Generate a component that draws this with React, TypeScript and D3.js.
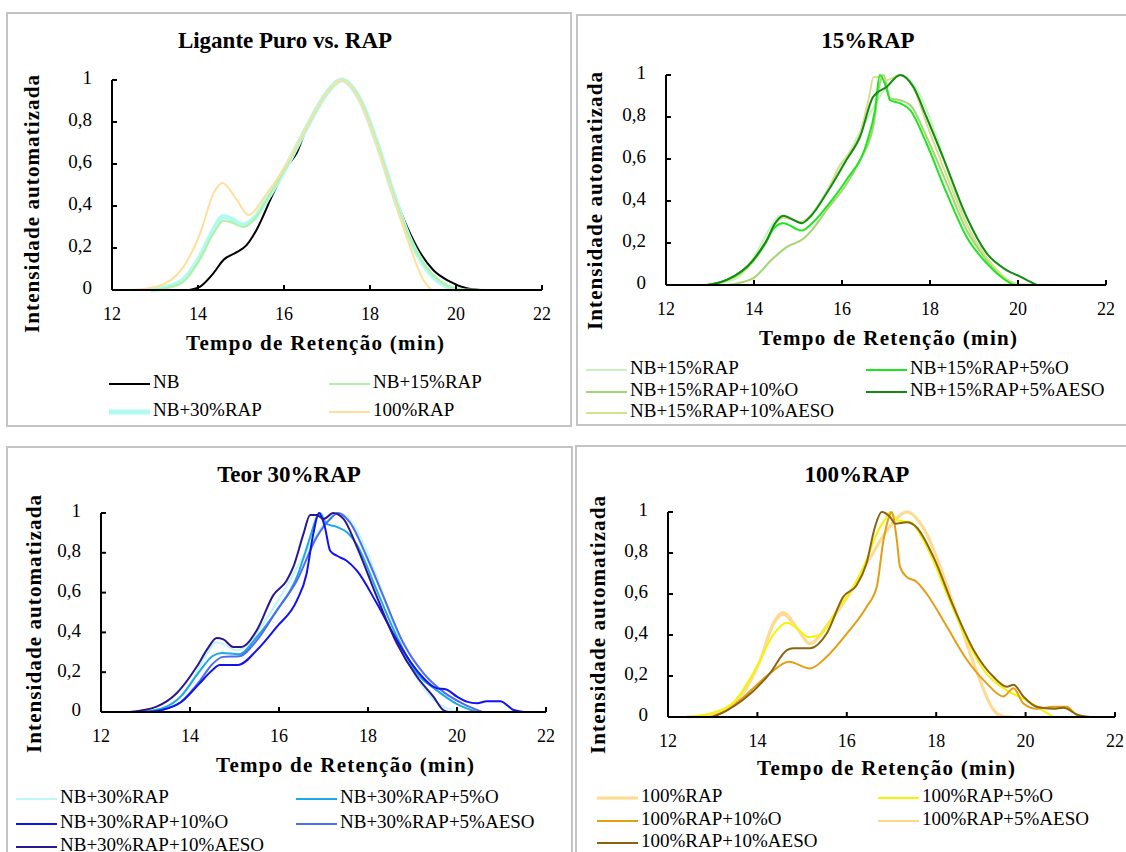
import React from 'react';
import * as d3 from 'd3';

type Pt = [number, number];

const xTicks = [12, 14, 16, 18, 20, 22];
const yTicks = [0, 0.2, 0.4, 0.6, 0.8, 1];

// ---------- Panel 1 / shared series ----------
const nb: Pt[] = [[13.8,0],[14.05,0.016],[14.36,0.08],[14.59,0.143],[14.9,0.18],[15.13,0.214],[15.36,0.286],[15.75,0.46],[16.06,0.585],[16.3,0.655],[16.53,0.775],[17.0,0.94],[17.34,1.0],[17.77,0.905],[18.16,0.70],[18.5,0.49],[18.8,0.33],[19.09,0.205],[19.47,0.095],[19.86,0.04],[20.25,0.008],[20.56,0]];
const nb15: Pt[] = [[12.9,0],[13.3,0.012],[13.66,0.04],[14.05,0.15],[14.36,0.27],[14.6,0.33],[14.8,0.32],[15.05,0.30],[15.3,0.335],[15.6,0.43],[16.06,0.59],[16.53,0.775],[17.0,0.94],[17.34,1.0],[17.77,0.905],[18.16,0.70],[18.54,0.46],[18.93,0.245],[19.09,0.18],[19.47,0.07],[19.8,0.02],[20.1,0.003],[20.8,0]];
const nb30: Pt[] = [[12.9,0],[13.3,0.015],[13.66,0.048],[14.05,0.16],[14.36,0.286],[14.59,0.35],[14.8,0.335],[15.05,0.31],[15.3,0.34],[15.6,0.43],[16.06,0.59],[16.53,0.775],[17.0,0.94],[17.34,1.0],[17.77,0.905],[18.16,0.70],[18.54,0.46],[18.93,0.24],[19.09,0.175],[19.47,0.063],[19.8,0.015],[20.09,0]];
const rap100: Pt[] = [[12.42,0],[13.04,0.016],[13.66,0.11],[14.05,0.27],[14.36,0.46],[14.57,0.51],[14.9,0.43],[15.17,0.357],[15.6,0.46],[16.06,0.60],[16.53,0.78],[17.0,0.94],[17.34,1.0],[17.77,0.90],[18.16,0.69],[18.54,0.45],[18.93,0.206],[19.24,0.048],[19.43,0]];

// ---------- Panel 2 (15%RAP) ----------
const nb15o5: Pt[] = [[12.95,0],[13.38,0.024],[13.98,0.115],[14.29,0.21],[14.45,0.27],[14.67,0.294],[15.08,0.259],[15.35,0.30],[15.65,0.373],[16.1,0.5],[16.56,0.675],[16.75,0.833],[16.86,1.0],[17.02,0.93],[17.09,0.88],[17.32,0.865],[17.55,0.833],[17.92,0.675],[18.38,0.437],[18.83,0.23],[19.29,0.103],[19.67,0.03],[19.9,0]];
const nb15o10: Pt[] = [[13.38,0],[13.98,0.032],[14.4,0.12],[14.74,0.18],[15.12,0.22],[15.35,0.27],[15.65,0.357],[16.1,0.48],[16.41,0.595],[16.71,0.754],[16.86,0.96],[16.94,1.0],[17.09,0.89],[17.32,0.88],[17.55,0.857],[17.92,0.706],[18.38,0.484],[18.83,0.262],[19.29,0.119],[19.74,0.02],[19.9,0]];
const nb15a5: Pt[] = [[12.92,0],[13.38,0.024],[13.98,0.119],[14.29,0.214],[14.48,0.294],[14.67,0.33],[14.85,0.315],[15.08,0.294],[15.3,0.33],[15.65,0.437],[16.1,0.595],[16.41,0.706],[16.71,0.897],[17.02,0.944],[17.32,1.0],[17.62,0.944],[17.92,0.80],[18.38,0.563],[18.83,0.325],[19.29,0.151],[19.74,0.071],[20.05,0.04],[20.42,0]];
const nb15a10: Pt[] = [[12.95,0],[13.38,0.02],[13.98,0.11],[14.29,0.21],[14.48,0.29],[14.67,0.32],[15.08,0.30],[15.3,0.335],[15.65,0.44],[15.95,0.57],[16.1,0.61],[16.41,0.72],[16.6,0.88],[16.72,0.99],[16.85,0.99],[17.0,0.975],[17.32,1.0],[17.62,0.94],[17.92,0.77],[18.38,0.52],[18.83,0.29],[19.29,0.13],[19.74,0.03],[20.0,0]];

// ---------- Panel 3 (30%RAP) ----------
const nb30o5: Pt[] = [[12.95,0],[13.4,0.02],[13.8,0.08],[14.2,0.2],[14.5,0.28],[14.71,0.297],[15.1,0.29],[15.5,0.377],[15.95,0.51],[16.4,0.678],[16.7,0.879],[16.85,0.98],[16.92,1.0],[17.07,0.945],[17.3,0.93],[17.52,0.904],[17.75,0.84],[18.2,0.61],[18.65,0.377],[19.1,0.194],[19.54,0.11],[20.0,0.04],[20.45,0]];
const nb30o10: Pt[] = [[12.95,0],[13.4,0.012],[13.8,0.05],[14.2,0.14],[14.5,0.21],[14.67,0.236],[15.08,0.236],[15.5,0.31],[15.95,0.428],[16.4,0.56],[16.62,0.695],[16.77,0.895],[16.9,1.0],[17.03,0.93],[17.15,0.81],[17.3,0.785],[17.52,0.76],[17.75,0.71],[18.2,0.545],[18.65,0.36],[19.1,0.208],[19.54,0.12],[19.76,0.113],[20.0,0.077],[20.22,0.052],[20.45,0.044],[20.67,0.054],[20.97,0.054],[21.27,0.01],[21.5,0]];
const nb30a5: Pt[] = [[13.0,0],[13.4,0.012],[13.8,0.05],[14.2,0.15],[14.5,0.24],[14.74,0.277],[15.1,0.28],[15.5,0.36],[15.95,0.51],[16.4,0.66],[16.85,0.88],[17.15,0.97],[17.33,1.0],[17.6,0.95],[17.97,0.78],[18.35,0.578],[18.8,0.344],[19.25,0.194],[19.7,0.1],[20.15,0.04],[20.57,0]];
const nb30a10: Pt[] = [[12.65,0],[13.25,0.027],[13.7,0.094],[14.15,0.227],[14.4,0.32],[14.6,0.372],[14.75,0.365],[14.97,0.327],[15.15,0.327],[15.5,0.41],[15.87,0.586],[16.17,0.66],[16.32,0.728],[16.55,0.895],[16.7,0.99],[16.85,0.99],[17.0,0.97],[17.22,1.0],[17.45,0.97],[17.75,0.83],[18.2,0.578],[18.65,0.344],[19.1,0.177],[19.47,0.077],[19.69,0.01],[19.8,0]];

// ---------- Panel 4 (100%RAP) ----------
const rapO5: Pt[] = [[12.45,0],[13.0,0.02],[13.5,0.08],[14.0,0.25],[14.35,0.40],[14.66,0.46],[14.9,0.43],[15.14,0.39],[15.4,0.40],[15.77,0.52],[16.15,0.635],[16.44,0.765],[16.67,0.895],[16.9,0.98],[16.97,1.0],[17.12,0.96],[17.42,0.95],[17.79,0.83],[18.24,0.60],[18.69,0.375],[19.13,0.21],[19.58,0.13],[20.03,0.08],[20.33,0.04],[20.62,0]];
const rapO10: Pt[] = [[12.94,0],[13.3,0.03],[13.68,0.095],[14.28,0.213],[14.7,0.27],[15.18,0.237],[15.55,0.294],[16.0,0.407],[16.44,0.537],[16.67,0.635],[16.82,0.862],[16.95,0.98],[17.0,1.0],[17.12,0.862],[17.19,0.732],[17.34,0.683],[17.56,0.66],[17.79,0.60],[18.24,0.44],[18.69,0.278],[19.13,0.164],[19.5,0.1],[19.73,0.14],[19.95,0.066],[20.25,0.04],[20.62,0.05],[20.92,0.05],[21.14,0.01],[21.25,0]];
const rapA5: Pt[] = [[12.45,0],[13.04,0.017],[13.66,0.11],[14.05,0.27],[14.36,0.45],[14.57,0.50],[14.9,0.425],[15.17,0.36],[15.6,0.46],[16.06,0.60],[16.53,0.78],[17.0,0.94],[17.34,1.0],[17.77,0.90],[18.16,0.69],[18.54,0.45],[18.93,0.21],[19.24,0.05],[19.5,0.005],[19.75,0]];
const rapA10: Pt[] = [[13.0,0],[13.3,0.03],[13.68,0.084],[14.28,0.213],[14.66,0.326],[14.8,0.335],[15.18,0.335],[15.55,0.407],[15.92,0.586],[16.22,0.643],[16.44,0.749],[16.63,0.927],[16.78,1.0],[16.97,0.975],[17.08,0.943],[17.34,0.95],[17.56,0.926],[17.94,0.78],[18.39,0.537],[18.84,0.326],[19.28,0.196],[19.58,0.148],[19.73,0.157],[19.95,0.1],[20.25,0.05],[20.62,0.04],[20.85,0.045],[21.14,0.013],[21.44,0]];

const SERIF = '"Liberation Serif","Times New Roman",serif';

type Series = { name: string; data: Pt[]; color: string; width: number };
type Cfg = {
  frame: [number, number, number, number];
  x0: number; x1: number; y1: number; y0: number;
  title: string; titleX: number; titleY: number;
  xLabelX: number; xLabelY: number;
  yLabelX: number; yLabelY: number;
  series: Series[]; drawOrder: number[];
  legCols: [number, number]; legRows: number[];
};

const panels: Cfg[] = [
  {
    frame: [7, 13, 571, 426], x0: 112, x1: 542, y1: 80, y0: 290,
    title: 'Ligante Puro vs. RAP', titleX: 285, titleY: 43,
    xLabelX: 315, xLabelY: 345, yLabelX: 34, yLabelY: 204,
    series: [
      { name: 'NB', data: nb, color: '#000000', width: 2 },
      { name: 'NB+15%RAP', data: nb15, color: '#b4f0a4', width: 2 },
      { name: 'NB+30%RAP', data: nb30, color: '#b2faf0', width: 5 },
      { name: '100%RAP', data: rap100, color: '#ffdf9c', width: 2 },
    ],
    drawOrder: [0, 2, 1, 3],
    legCols: [109, 329], legRows: [384, 412],
  },
  {
    frame: [577, 15, 1140, 425], x0: 666, x1: 1106, y1: 75, y0: 285,
    title: '15%RAP', titleX: 868, titleY: 43,
    xLabelX: 888, xLabelY: 340, yLabelX: 597, yLabelY: 201,
    series: [
      { name: 'NB+15%RAP', data: nb15, color: '#c6f2bc', width: 2 },
      { name: 'NB+15%RAP+5%O', data: nb15o5, color: '#1ee61e', width: 2 },
      { name: 'NB+15%RAP+10%O', data: nb15o10, color: '#a2d670', width: 2 },
      { name: 'NB+15%RAP+5%AESO', data: nb15a5, color: '#138a13', width: 2 },
      { name: 'NB+15%RAP+10%AESO', data: nb15a10, color: '#d6df8c', width: 2 },
    ],
    drawOrder: [0, 2, 4, 1, 3],
    legCols: [586, 866], legRows: [370, 392, 413],
  },
  {
    frame: [7, 447, 572, 870], x0: 101, x1: 546, y1: 513, y0: 712,
    title: 'Teor 30%RAP', titleX: 289, titleY: 477,
    xLabelX: 345, xLabelY: 767, yLabelX: 36, yLabelY: 624,
    series: [
      { name: 'NB+30%RAP', data: nb30, color: '#bff6f6', width: 2 },
      { name: 'NB+30%RAP+5%O', data: nb30o5, color: '#1ea8e6', width: 2 },
      { name: 'NB+30%RAP+10%O', data: nb30o10, color: '#1212ee', width: 2 },
      { name: 'NB+30%RAP+5%AESO', data: nb30a5, color: '#4d6def', width: 2 },
      { name: 'NB+30%RAP+10%AESO', data: nb30a10, color: '#2a1890', width: 2 },
    ],
    drawOrder: [0, 1, 3, 2, 4],
    legCols: [16, 296], legRows: [799, 824, 847],
  },
  {
    frame: [576, 446, 1140, 870], x0: 668, x1: 1115, y1: 512, y0: 717,
    title: '100%RAP', titleX: 857, titleY: 477,
    xLabelX: 886, xLabelY: 770, yLabelX: 600, yLabelY: 625,
    series: [
      { name: '100%RAP', data: rap100, color: '#ffda90', width: 3 },
      { name: '100%RAP+5%O', data: rapO5, color: '#f5f500', width: 2 },
      { name: '100%RAP+10%O', data: rapO10, color: '#e59e12', width: 2 },
      { name: '100%RAP+5%AESO', data: rapA5, color: '#ffd688', width: 2 },
      { name: '100%RAP+10%AESO', data: rapA10, color: '#8b6412', width: 2 },
    ],
    drawOrder: [3, 0, 1, 2, 4],
    legCols: [597, 878], legRows: [798, 821, 843],
  },
];

const fmtY = (v: number) => (v === 0 ? '0' : v === 1 ? '1' : v.toFixed(1).replace('.', ','));

function Panel({ cfg }: { cfg: Cfg }) {
  const x = d3.scaleLinear().domain([12, 22]).range([cfg.x0, cfg.x1]);
  const y = d3.scaleLinear().domain([0, 1]).range([cfg.y0, cfg.y1]);
  const line = d3.line<Pt>().x(d => x(d[0])).y(d => y(d[1])).curve(d3.curveMonotoneX);
  const [fx0, fy0, fx1, fy1] = cfg.frame;
  return (
    <g>
      <rect x={fx0} y={fy0} width={fx1 - fx0} height={fy1 - fy0} fill="#fff" stroke="#c4c4c4" strokeWidth={2} />
      <text x={cfg.titleX} y={cfg.titleY} textAnchor="middle" dominantBaseline="middle" fontFamily={SERIF} fontWeight="bold" fontSize={23}>{cfg.title}</text>
      {cfg.drawOrder.map(i => {
        const s = cfg.series[i];
        return <path key={s.name} d={line(s.data) || ''} fill="none" stroke={s.color} strokeWidth={s.width} strokeLinejoin="round" />;
      })}
      <line x1={x(12)} x2={x(12)} y1={y(0)} y2={y(1)} stroke="#000" strokeWidth={2} />
      <line x1={x(12)} x2={x(22)} y1={y(0)} y2={y(0)} stroke="#000" strokeWidth={2} />
      {yTicks.map(t => (
        <g key={'y' + t}>
          <line x1={x(12)} x2={x(12) + 5} y1={y(t)} y2={y(t)} stroke="#000" strokeWidth={2} />
          <text x={x(12) - 20} y={y(t)} textAnchor="end" dominantBaseline="middle" fontFamily={SERIF} fontSize={19}>{fmtY(t)}</text>
        </g>
      ))}
      {xTicks.map(t => (
        <g key={'x' + t}>
          <line x1={x(t)} x2={x(t)} y1={y(0)} y2={y(0) - 5} stroke="#000" strokeWidth={2} />
          <text x={x(t)} y={y(0) + 26} textAnchor="middle" dominantBaseline="middle" fontFamily={SERIF} fontSize={18}>{t}</text>
        </g>
      ))}
      <text x={cfg.xLabelX} y={cfg.xLabelY} textAnchor="middle" dominantBaseline="middle" fontFamily={SERIF} fontWeight="bold" fontSize={21} textLength={258} lengthAdjust="spacing">Tempo de Retenção (min)</text>
      <text transform={`translate(${cfg.yLabelX},${cfg.yLabelY}) rotate(-90)`} textAnchor="middle" dominantBaseline="middle" fontFamily={SERIF} fontWeight="bold" fontSize={21} textLength={258} lengthAdjust="spacing">Intensidade automatizada</text>
      {cfg.series.map((s, i) => {
        const lx = cfg.legCols[i % 2];
        const ly = cfg.legRows[Math.floor(i / 2)];
        return (
          <g key={'l' + s.name}>
            <line x1={lx} x2={lx + 41} y1={ly} y2={ly} stroke={s.color} strokeWidth={s.width} />
            <text x={lx + 44} y={ly} dominantBaseline="middle" fontFamily={SERIF} fontSize={19}>{s.name}</text>
          </g>
        );
      })}
    </g>
  );
}

export default function App() {
  return (
    <svg width={1126} height={852} style={{ position: 'absolute', left: 0, top: 0, background: '#fff' }}>
      <rect x={0} y={0} width={1126} height={852} fill="#fff" />
      {panels.map((p, i) => <Panel key={i} cfg={p} />)}
    </svg>
  );
}
